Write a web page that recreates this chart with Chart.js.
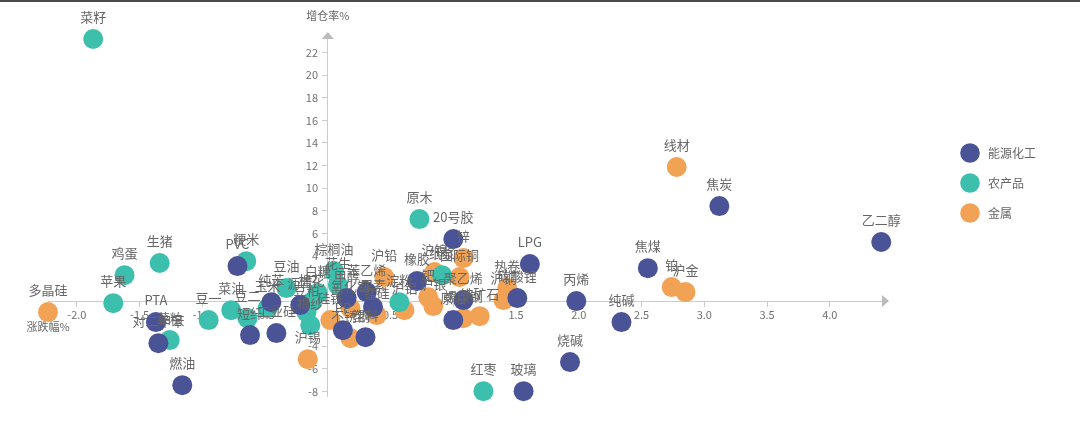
<!DOCTYPE html>
<html>
<head>
<meta charset="utf-8">
<title>涨跌幅 / 增仓率</title>
<script src="https://cdn.jsdelivr.net/npm/chart.js@4.4.1/dist/chart.umd.min.js"></script>
<style>
  html, body { margin: 0; padding: 0; background: #fff; }
  #wrap { position: relative; width: 1080px; height: 431px; }
  #topline { position: absolute; left: 0; top: 0; width: 1080px; height: 2px; background: #4a4a4a; }
</style>
</head>
<body>
<div id="wrap">
  <canvas id="futuresChart"></canvas>
  <div id="topline"></div>
</div>
<script>
// series
const seriesNames = ['能源化工', '农产品', '金属'];
const seriesColors = ['#4b5397', '#3dbfae', '#f2a254'];

// 能源化工: name / 涨跌幅% (x) / 增仓率% (y)
const energyNames  = ['PTA', '对二甲苯', '燃油', 'PVC', '纯苯', '短纤', '工业硅', '沥青', '甲醇', '苯乙烯', '尿素', 'PP', '塑料',
                      '橡胶', '20号胶', '聚乙烯', '原油', '碳酸锂', 'LPG', '丙烯', '纯碱', '烧碱', '玻璃', '焦煤', '焦炭', '乙二醇'];
const energyChange = [-1.37, -1.35, -1.16, -0.72, -0.45, -0.62, -0.41, -0.22, 0.15, 0.31, 0.36, 0.12, 0.30,
                      0.71, 1.00, 1.08, 1.00, 1.51, 1.61, 1.98, 2.34, 1.93, 1.56, 2.55, 3.12, 4.41];
const energyOi     = [-1.86, -3.72, -7.44, 3.10, -0.09, -3.01, -2.83, -0.35, 0.27, 0.80, -0.53, -2.57, -3.19,
                      1.77, 5.49, 0.09, -1.68, 0.27, 3.28, 0.00, -1.86, -5.40, -7.97, 2.92, 8.41, 5.23];

// 农产品
const agriNames  = ['菜籽', '鸡蛋', '生猪', '苹果', '粳米', '菜粕', '豆一', '菜油', '豆二', '玉米', '豆油', '棕榈油',
                    '白糖', '棉花', '豆粕', '棉纱', '花生', '淀粉', '原木', '红枣', '纸浆'];
const agriChange = [-1.87, -1.62, -1.34, -1.71, -0.65, -1.26, -0.95, -0.77, -0.64, -0.48, -0.33, 0.05,
                    -0.08, -0.13, -0.17, -0.14, 0.08, 0.57, 0.73, 1.24, 0.91];
const agriOi     = [23.20, 2.30, 3.37, -0.18, 3.54, -3.45, -1.68, -0.80, -1.51, -0.62, 1.15, 2.66,
                    0.71, -0.09, -0.97, -2.13, 1.42, -0.09, 7.26, -7.97, 2.30];

// 金属
const metalNames  = ['多晶硅', '沪锡', '线材', '铂', '沪金', '沪铅', '锌', '国际铜', '沪镍', '钯', '沪银', '沪铝',
                     '螺纹钢', '铁矿石', '热卷', '沪铜', '不锈钢', '硅铁', '锰硅', '氧化铝'];
const metalChange = [-2.23, -0.16, 2.78, 2.74, 2.85, 0.45, 1.08, 1.05, 0.85, 0.80, 0.84, 0.61,
                     1.08, 1.21, 1.43, 1.40, 0.18, 0.02, 0.39, 0.18];
const metalOi     = [-0.97, -5.14, 11.87, 1.24, 0.80, 2.13, 3.81, 2.13, 2.57, 0.35, -0.44, -0.80,
                     -1.51, -1.33, 1.15, 0.09, -3.28, -1.68, -1.24, -0.62];

// axes
const xMin = -2.23, xMax = 4.44, xStep = 0.5;
const yMin = -8.4, yMax = 23.47, yStep = 2;
const xAxisName = '涨跌幅%';
const yAxisName = '增仓率%';

const axisColor = '#cccccc';
const tickColor = '#707070';
const labelColor = '#666666';

Chart.defaults.font.family = '"Noto Sans CJK SC", "Noto Sans", sans-serif';
Chart.defaults.color = labelColor;

function toPoints(xs, ys) {
  return xs.map((x, i) => ({ x: x, y: ys[i] }));
}

function makeDot(color) {
  const c = document.createElement('canvas');
  c.width = 20;
  c.height = 20;
  const g = c.getContext('2d');
  g.fillStyle = color;
  g.beginPath();
  g.arc(10, 10, 9.8, 0, Math.PI * 2);
  g.fill();
  return c;
}
const legendDots = seriesColors.map(makeDot);

const datasets = [
  { label: seriesNames[0], data: toPoints(energyChange, energyOi), names: energyNames },
  { label: seriesNames[1], data: toPoints(agriChange, agriOi), names: agriNames },
  { label: seriesNames[2], data: toPoints(metalChange, metalOi), names: metalNames }
].map((ds, i) => Object.assign(ds, {
  backgroundColor: seriesColors[i],
  borderColor: seriesColors[i],
  pointRadius: 10,
  pointHoverRadius: 10,
  pointBorderWidth: 0,
  clip: false
}));

// names above every point
const pointNames = {
  id: 'pointNames',
  afterDatasetsDraw(chart) {
    const ctx = chart.ctx;
    ctx.save();
    ctx.font = '13px "Noto Sans CJK SC", sans-serif';
    ctx.fillStyle = labelColor;
    ctx.textAlign = 'center';
    ctx.textBaseline = 'middle';
    chart.data.datasets.forEach((ds, i) => {
      chart.getDatasetMeta(i).data.forEach((pt, j) => {
        ctx.fillText(ds.names[j], pt.x, pt.y - 22);
      });
    });
    ctx.restore();
  }
};

// arrow heads and axis names
const axisDecor = {
  id: 'axisDecor',
  afterDraw(chart) {
    const { ctx, chartArea } = chart;
    const x0 = chart.scales.x.getPixelForValue(0);
    const y0 = chart.scales.y.getPixelForValue(0);
    ctx.save();
    ctx.fillStyle = '#bbbbbb';
    ctx.beginPath();
    ctx.moveTo(chartArea.right + 4, y0);
    ctx.lineTo(chartArea.right - 3, y0 - 6);
    ctx.lineTo(chartArea.right - 3, y0 + 6);
    ctx.closePath();
    ctx.fill();
    ctx.beginPath();
    ctx.moveTo(x0, chartArea.top - 4);
    ctx.lineTo(x0 - 6, chartArea.top + 3);
    ctx.lineTo(x0 + 6, chartArea.top + 3);
    ctx.closePath();
    ctx.fill();

    ctx.font = '11px "Noto Sans CJK SC", sans-serif';
    ctx.fillStyle = labelColor;
    ctx.textAlign = 'center';
    ctx.textBaseline = 'middle';
    ctx.fillText(yAxisName, x0, chartArea.top - 20);
    ctx.fillText(xAxisName, chartArea.left, y0 + 26);
    ctx.restore();
  }
};

// legend sits further right and lower than the layout puts it
const legendSpot = {
  id: 'legendSpot',
  afterLayout(chart) {
    const lg = chart.legend;
    const dx = 940 - lg.left;
    const dy = 129 - lg.top;
    lg.left += dx; lg.right += dx;
    lg.top += dy; lg.bottom += dy;
  }
};

new Chart(document.getElementById('futuresChart'), {
  type: 'scatter',
  data: { datasets: datasets },
  options: {
    responsive: true,
    maintainAspectRatio: false,
    animation: false,
    layout: {
      autoPadding: false,
      padding: { left: 48, top: 36, right: 89, bottom: 35 }
    },
    scales: {
      x: {
        type: 'linear',
        min: xMin,
        max: xMax,
        position: { y: 0 },
        border: { color: axisColor },
        grid: { drawOnChartArea: false, tickLength: 5, color: axisColor },
        ticks: {
          stepSize: xStep,
          includeBounds: false,
          autoSkip: false,
          maxRotation: 0,
          padding: 2,
          color: tickColor,
          font: { size: 11 },
          callback: v => Math.abs(v) < 1e-9 ? '' : v.toFixed(1)
        },
        afterFit(scale) { scale.height = 0; }
      },
      y: {
        type: 'linear',
        min: yMin,
        max: yMax,
        position: { x: 0 },
        border: { color: axisColor },
        grid: { drawOnChartArea: false, tickLength: 5, color: axisColor },
        ticks: {
          stepSize: yStep,
          includeBounds: false,
          autoSkip: false,
          color: tickColor,
          font: { size: 11 },
          // centred axes put the label right on the line, so pad it with spaces
          callback: v => Math.abs(v) < 1e-9 ? '' : String(v) + '    '
        },
        afterFit(scale) { scale.width = 0; }
      }
    },
    plugins: {
      tooltip: { enabled: false },
      legend: {
        position: 'right',
        align: 'start',
        labels: {
          usePointStyle: true,
          pointStyleWidth: 24,
          padding: 18,
          color: labelColor,
          font: { size: 12 },
          generateLabels(chart) {
            const items = Chart.defaults.plugins.legend.labels.generateLabels(chart);
            items.forEach((item, i) => { item.pointStyle = legendDots[i]; });
            return items;
          }
        }
      }
    }
  },
  plugins: [pointNames, axisDecor, legendSpot]
});
</script>
</body>
</html>
